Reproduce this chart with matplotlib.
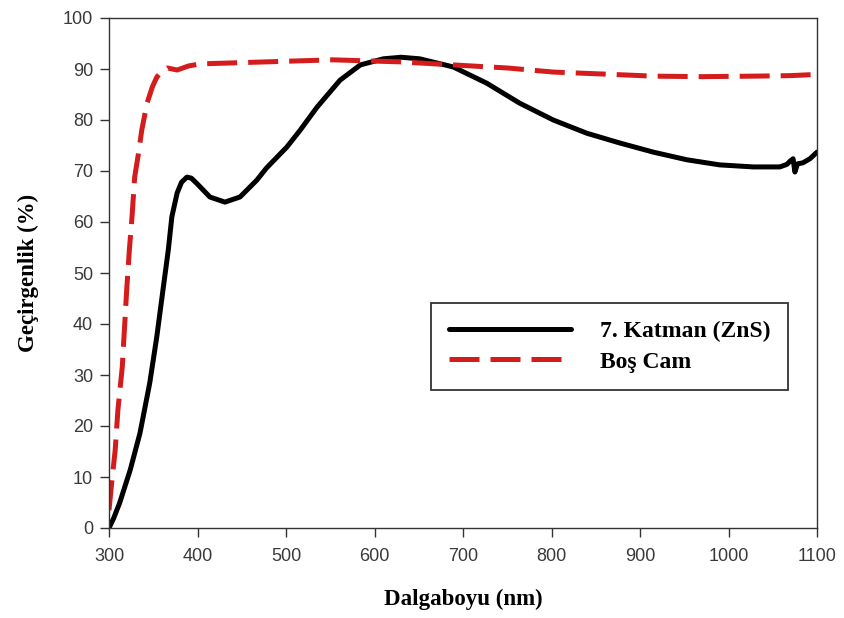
import matplotlib
matplotlib.use("Agg")
import matplotlib.pyplot as plt

# Black curve: 7. Katman (ZnS)
zns_x = [300, 305, 312, 324, 335, 346, 354, 361, 367, 371, 377, 382, 388, 393, 399, 414,
         431, 448, 467, 478, 501, 516, 535, 561, 584, 610, 630, 651, 689, 727, 764, 802,
         840, 877, 915, 953, 990, 1028, 1058, 1066, 1070, 1073, 1075, 1078, 1084, 1092, 1100]
zns_y = [0, 1.8, 4.9, 11.4, 18.6, 28.4, 37.5, 46.7, 54.5, 61, 65.7, 67.8, 68.8, 68.6, 67.6, 64.9,
         63.9, 64.9, 68.2, 70.6, 74.7, 78, 82.5, 87.8, 90.8, 92.0, 92.3, 92.0, 90.4, 87.2, 83.3, 80,
         77.4, 75.5, 73.7, 72.2, 71.2, 70.8, 70.8, 71.3, 72.0, 72.4, 69.8, 71.4, 71.6, 72.4, 73.7]

# Red dashed curve: Boş Cam
cam_x = [300, 303, 307, 310, 315, 320, 323, 326, 329, 333, 337, 343, 349, 354, 360, 366,
         377, 390, 403, 478, 553, 629, 689, 750, 802, 860, 915, 970, 1028, 1070, 1095, 1100]
cam_y = [3.5, 8.8, 15.3, 23, 31.6, 46.7, 54.5, 61, 68.8, 73.1, 78.0, 83.3, 86.5, 88.4, 89.6, 90.2,
         89.8, 90.6, 91.0, 91.4, 91.8, 91.4, 90.8, 90.2, 89.4, 89.0, 88.6, 88.5, 88.6, 88.7, 88.9, 88.7]

x_ticks = [300, 400, 500, 600, 700, 800, 900, 1000, 1100]
y_ticks = [0, 10, 20, 30, 40, 50, 60, 70, 80, 90, 100]

fig = plt.figure(figsize=(8.45, 6.18), dpi=100)
ax = fig.add_axes([109/845, 90/618, 708/845, 510/618])

ax.plot(zns_x, zns_y, color="black", lw=3.6, solid_capstyle="round",
        solid_joinstyle="round", label="7. Katman (ZnS)")
ax.plot(cam_x, cam_y, color="#d41c1c", lw=3.6, dashes=(6, 2.2),
        label="Boş Cam")

ax.set_xlim(300, 1100)
ax.set_ylim(0, 100)
ax.set_xticks(x_ticks)
ax.set_yticks(y_ticks)
ax.tick_params(direction="out", length=6.5, width=1, color="#333333",
               labelsize=13, labelcolor="#3a3a3a", pad=5)
ax.tick_params(axis="x", pad=8)
for lab in ax.get_xticklabels() + ax.get_yticklabels():
    lab.set_family("Liberation Sans")
for s in ax.spines.values():
    s.set_color("#333333")
    s.set_linewidth(1.0)

ax.set_xlabel("Dalgaboyu (nm)", family="Liberation Serif", fontweight="bold",
              fontsize=16.5, labelpad=17)
ax.set_ylabel("Geçirgenlik (%)", family="Liberation Serif", fontweight="bold",
              fontsize=16.5, labelpad=17)

leg = ax.legend(loc="upper left", bbox_to_anchor=((431-109)/708, (528-303)/510),
                borderaxespad=0, frameon=True, fancybox=False,
                handlelength=5.2, handletextpad=1.2, borderpad=0.75,
                labelspacing=0.38,
                prop={"family": "Liberation Serif", "weight": "bold", "size": 17})
leg.get_frame().set_edgecolor("black")
leg.get_frame().set_linewidth(1.3)

fig.savefig("out.png", dpi=100)
